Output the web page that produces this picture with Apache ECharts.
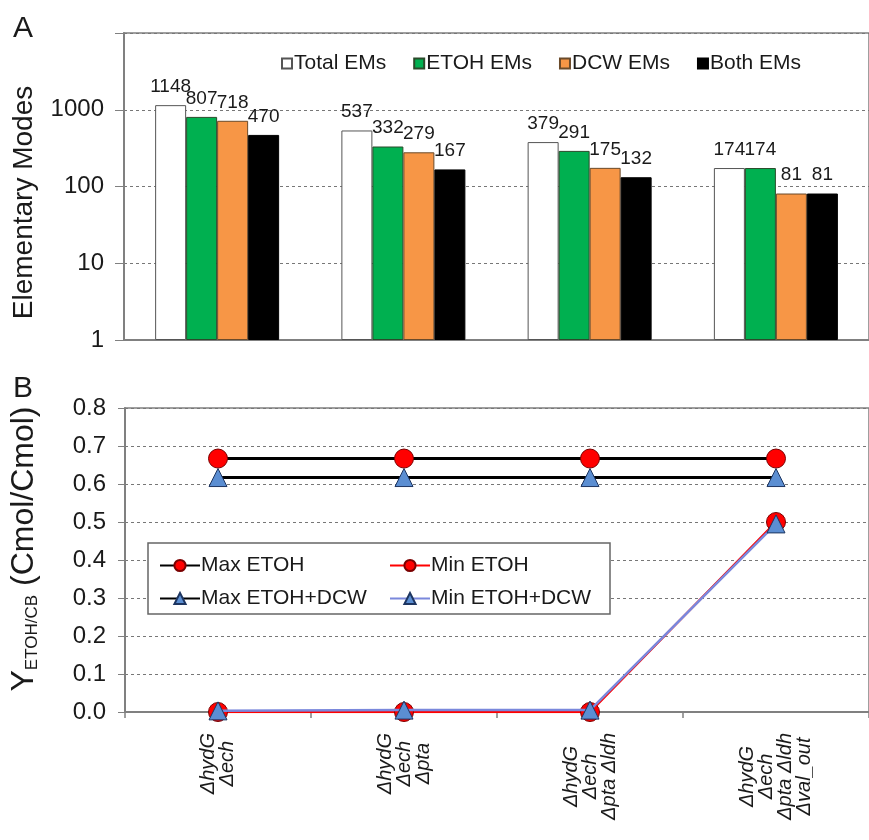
<!DOCTYPE html>
<html><head><meta charset="utf-8">
<script src="https://cdn.jsdelivr.net/npm/echarts@6/dist/echarts.min.js"></script>
<style>html,body{margin:0;padding:0;background:#fff}#c{width:869px;height:840px}</style>
</head><body><div id="c"></div>
<script>
const categories = ['ΔhydG\nΔech', 'ΔhydG\nΔech\nΔpta', 'ΔhydG\nΔech\nΔpta Δldh', 'ΔhydG\nΔech\nΔpta Δldh\nΔval_out'];
const totalEMs = [1148, 537, 379, 174];
const etohEMs = [807, 332, 291, 174];
const dcwEMs = [718, 279, 175, 81];
const bothEMs = [470, 167, 132, 81];
const maxEtoh = [0.667, 0.667, 0.667, 0.667];
const minEtoh = [0, 0, 0, 0.5];
const maxEtohDcw = [0.617, 0.617, 0.617, 0.617];
const minEtohDcw = [0.003, 0.005, 0.005, 0.495];
const logTicks = [1, 10, 100, 1000];
const yTicksB = [0, 0.1, 0.2, 0.3, 0.4, 0.5, 0.6, 0.7, 0.8];

const FF = '"Liberation Sans", Arial, sans-serif';
const TXT = '#1a1a1a';
const AX = '#808080';

const chart = echarts.init(document.getElementById('c'));

function barSeries(name, data, color, border) {
  return {
    name, type: 'bar', data, xAxisIndex: 0, yAxisIndex: 0,
    barWidth: 31, barGap: '0%',
    itemStyle: { color, borderColor: border, borderWidth: 1 },
    label: { show: true, position: 'top', distance: 9, fontSize: 19, fontFamily: FF, color: TXT }
  };
}

const option = {
  backgroundColor: '#fff',
  animation: false,
  textStyle: { fontFamily: FF },
  title: [
    { text: 'A', left: 8, top: 9, textStyle: { fontSize: 30, fontWeight: 'normal', fontFamily: FF, color: TXT } },
    { text: 'B', left: 8, top: 369, textStyle: { fontSize: 30, fontWeight: 'normal', fontFamily: FF, color: TXT } }
  ],
  graphic: [
    { type: 'rect', z: 3, shape: { x: 148, y: 543, width: 462, height: 71 },
      style: { fill: '#fff', stroke: '#666', lineWidth: 1.5 } }
  ],
  legend: [
    { data: ['Total EMs', 'ETOH EMs', 'DCW EMs', 'Both EMs'], left: 276, top: 48,
      icon: 'rect', itemWidth: 10, itemHeight: 10, itemGap: 27,
      textStyle: { fontSize: 21, fontFamily: FF, color: TXT, padding: [0, 0, 0, -3] } },
    { data: ['Max ETOH', 'Max ETOH+DCW'], orient: 'vertical', left: 154, top: 550, z: 5,
      itemWidth: 40, itemHeight: 14, itemGap: 12,
      textStyle: { fontSize: 21, fontFamily: FF, color: TXT, padding: [0, 0, 0, -4] } },
    { data: ['Min ETOH', 'Min ETOH+DCW'], orient: 'vertical', left: 384, top: 550, z: 5,
      itemWidth: 40, itemHeight: 14, itemGap: 12,
      textStyle: { fontSize: 21, fontFamily: FF, color: TXT, padding: [0, 0, 0, -4] } }
  ],
  grid: [
    { left: 124, right: -4, top: 33, height: 307, show: true, borderColor: AX, borderWidth: 1.5, backgroundColor: 'transparent' },
    { left: 124, right: -4, top: 408, height: 304, show: true, borderColor: AX, borderWidth: 1.5, backgroundColor: 'transparent' }
  ],
  xAxis: [
    { type: 'category', gridIndex: 0, data: categories,
      axisLine: { lineStyle: { color: AX, width: 2 } }, axisTick: { show: false }, axisLabel: { show: false } },
    { type: 'category', gridIndex: 1, data: categories,
      axisLine: { lineStyle: { color: AX, width: 2 } },
      axisTick: { show: true, length: 6, lineStyle: { color: AX, width: 1.5 } },
      axisLabel: {
        interval: 0, rotate: 90, margin: 21, color: TXT,
        formatter: v => v.split('\n').map(s => '{c|' + s + '}').join('\n'),
        rich: { c: { align: 'center', fontStyle: 'italic', fontSize: 20, lineHeight: 19, fontFamily: FF, color: TXT } }
      } }
  ],
  yAxis: [
    { type: 'log', gridIndex: 0, logBase: 10, min: 1, max: 10000,
      name: 'Elementary Modes', nameLocation: 'middle', nameRotate: 90, nameGap: 86,
      nameTextStyle: { fontSize: 28, fontFamily: FF, color: TXT, padding: [0, 32, 0, 0] },
      axisLine: { show: true, lineStyle: { color: AX, width: 2 } },
      axisTick: { show: true, length: 9, lineStyle: { color: AX } },
      axisLabel: { fontSize: 24, margin: 20, color: TXT, fontFamily: FF,
        formatter: v => logTicks.includes(Math.round(v)) ? String(Math.round(v)) : '' },
      splitLine: { show: true, lineStyle: { color: '#777', type: [3, 3], width: 1 } } },
    { type: 'value', gridIndex: 1, min: 0, max: 0.8, interval: 0.1,
      name: '{a|Y}{s|ETOH/CB}{a| (Cmol/Cmol)}', nameLocation: 'middle', nameRotate: 90, nameGap: 84,
      nameTextStyle: { fontFamily: FF, color: TXT, padding: [0, 0, 0, 22],
        rich: { a: { fontSize: 32, fontFamily: FF, color: TXT, lineHeight: 34 },
                s: { fontSize: 17, fontFamily: FF, color: TXT, verticalAlign: 'bottom', lineHeight: 22 } } },
      axisLine: { show: true, lineStyle: { color: AX, width: 2 } },
      axisTick: { show: true, length: 7, lineStyle: { color: AX } },
      axisLabel: { fontSize: 24, margin: 19, color: TXT, fontFamily: FF,
        formatter: v => yTicksB.find(t => Math.abs(t - v) < 1e-9).toFixed(1) },
      splitLine: { show: true, lineStyle: { color: '#777', type: [3, 3], width: 1 } } }
  ],
  series: [
    barSeries('Total EMs', totalEMs, '#ffffff', '#555'),
    barSeries('ETOH EMs', etohEMs, '#00b050', '#2a4a2a'),
    barSeries('DCW EMs', dcwEMs, '#f79646', '#6a4a2a'),
    barSeries('Both EMs', bothEMs, '#000000', '#000'),
    { name: 'Max ETOH', type: 'line', xAxisIndex: 1, yAxisIndex: 1, data: maxEtoh,
      symbol: 'circle', symbolSize: 19, z: 3,
      lineStyle: { color: '#000', width: 3 },
      itemStyle: { color: '#ff0000', borderColor: '#7a0000', borderWidth: 1 } },
    { name: 'Min ETOH', type: 'line', xAxisIndex: 1, yAxisIndex: 1, data: minEtoh,
      symbol: 'circle', symbolSize: 19, z: 3,
      lineStyle: { color: '#ff0000', width: 2.5 },
      itemStyle: { color: '#ff0000', borderColor: '#7a0000', borderWidth: 1 } },
    { name: 'Max ETOH+DCW', type: 'line', xAxisIndex: 1, yAxisIndex: 1, data: maxEtohDcw,
      symbol: 'triangle', symbolSize: 18, z: 4,
      lineStyle: { color: '#000', width: 3 },
      itemStyle: { color: '#5b8ed2', borderColor: '#1d3560', borderWidth: 1 } },
    { name: 'Min ETOH+DCW', type: 'line', xAxisIndex: 1, yAxisIndex: 1, data: minEtohDcw,
      symbol: 'triangle', symbolSize: 18, z: 4,
      lineStyle: { color: '#7a88dc', width: 2.5 },
      itemStyle: { color: '#5b8ed2', borderColor: '#1d3560', borderWidth: 1 } }
  ]
};
chart.setOption(option);
</script>
</body></html>
